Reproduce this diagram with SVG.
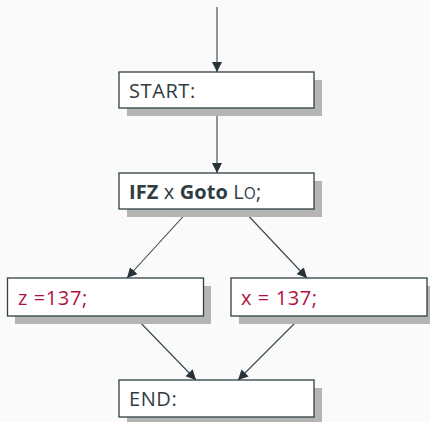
<svg xmlns="http://www.w3.org/2000/svg" width="430" height="422" viewBox="0 0 430 422">
<defs>
<style>
.shadow{fill:#b5b5b5}
.box{fill:#ffffff;stroke:#2f4047;stroke-width:1.3}
.t{font-family:"Open Sans","Noto Sans",sans-serif;font-size:20px;letter-spacing:0.6px;fill:#2f3d42}
.r{fill:#b0123e}
.b{font-weight:bold}
.sc{text-transform:uppercase;font-size:15.5px}
.e{stroke:#34464d;stroke-width:1.1;fill:none;marker-end:url(#ah)}
</style>
<marker id="ah" viewBox="0 0 10 10" refX="10" refY="5" markerWidth="10" markerHeight="10" markerUnits="userSpaceOnUse" orient="auto">
<path d="M0,0 L10,5 L0,10 z" fill="#263238"/>
</marker>
</defs>
<rect width="430" height="422" fill="#fafafa"/>
<g id="edges">
<line class="e" x1="217" y1="7" x2="217" y2="72"/>
<line class="e" x1="217" y1="108" x2="217" y2="173"/>
<line class="e" x1="190" y1="209" x2="127" y2="278"/>
<line class="e" x1="242" y1="209" x2="307" y2="278"/>
<line class="e" x1="134" y1="316" x2="196" y2="380"/>
<line class="e" x1="302" y1="316" x2="238" y2="380"/>
</g>
<g id="start">
<rect class="shadow" x="127" y="80" width="195" height="36"/>
<rect class="box" x="119" y="72" width="195" height="36"/>
<text class="t" x="129" y="97.5">START:</text>
</g>
<g id="ifz">
<rect class="shadow" x="127" y="181" width="195" height="36"/>
<rect class="box" x="119" y="173" width="195" height="36"/>
<text class="t" x="129" y="198.5" style="letter-spacing:0.1px"><tspan class="b">IFZ</tspan> x <tspan class="b">Goto</tspan> L<tspan class="sc">o</tspan>;</text>
</g>
<g id="assignz">
<rect class="shadow" x="15" y="286" width="196" height="38"/>
<rect class="box" x="7.5" y="278" width="196" height="38"/>
<text class="t r" x="18" y="304.5">z =137;</text>
</g>
<g id="assignx">
<rect class="shadow" x="239" y="286" width="196" height="38"/>
<rect class="box" x="231" y="278" width="196" height="38"/>
<text class="t r" x="241" y="304.5">x = 137;</text>
</g>
<g id="end">
<rect class="shadow" x="127" y="388" width="195" height="37"/>
<rect class="box" x="119" y="380" width="195" height="37"/>
<text class="t" x="129" y="405.5">END:</text>
</g>
</svg>
